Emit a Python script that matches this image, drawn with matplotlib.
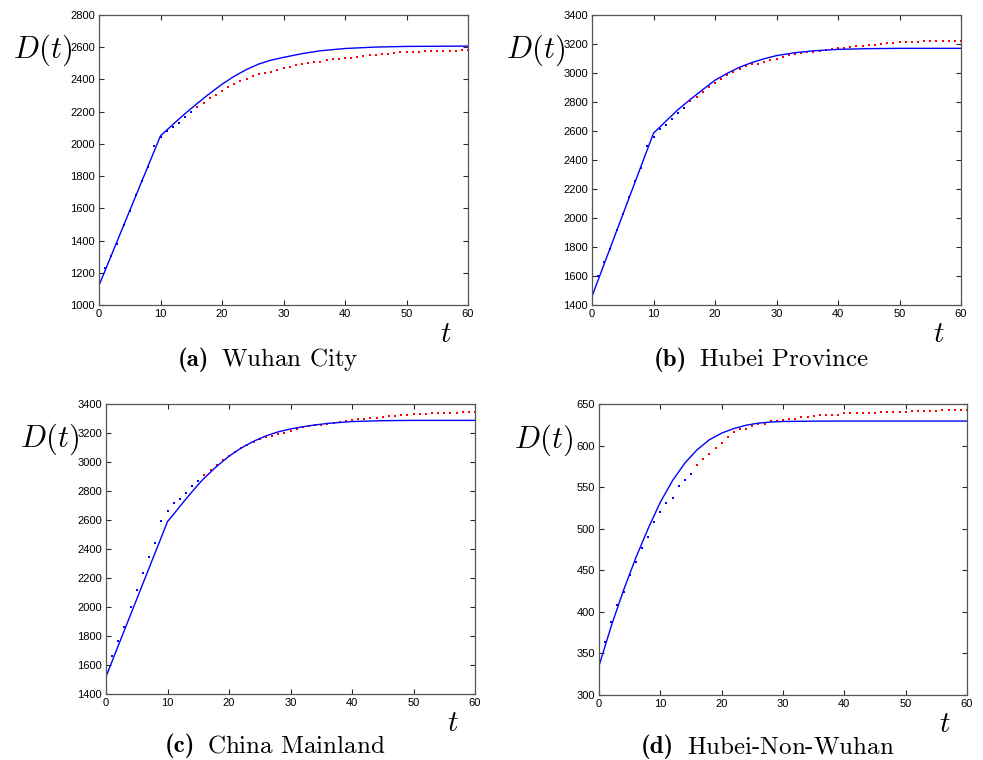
import numpy as np
import matplotlib
matplotlib.use("Agg")
import matplotlib.pyplot as plt
from matplotlib.offsetbox import TextArea, HPacker, AnchoredOffsetbox

plt.rcParams["mathtext.fontset"] = "cm"
plt.rcParams["font.family"] = ["Liberation Sans", "DejaVu Sans"]

# ── observed data (dots), one per day t = 0..60 ──────────────────────────────
t_obs = np.arange(0, 61)
n_fit = 16  # first 16 days drawn blue, rest red

wuhan_obs = [1122, 1232, 1306, 1381, 1494, 1583, 1685, 1772, 1857, 1987,
             2045, 2082, 2105, 2132, 2169, 2196, 2227, 2252, 2283, 2306,
             2330, 2351, 2370, 2390, 2405, 2423, 2434, 2438, 2448, 2459,
             2469, 2479, 2490, 2496, 2502, 2506, 2510, 2521, 2525, 2527,
             2531, 2535, 2539, 2546, 2550, 2552, 2556, 2560, 2564, 2568,
             2570, 2572, 2572, 2575, 2575, 2577, 2577, 2579, 2579, 2581, 2583]
hubei_obs = [1460, 1597, 1694, 1788, 1919, 2029, 2142, 2254, 2346, 2495,
             2562, 2617, 2640, 2683, 2727, 2762, 2805, 2835, 2872, 2904,
             2934, 2961, 2989, 3010, 3026, 3046, 3060, 3065, 3078, 3088,
             3099, 3110, 3124, 3131, 3136, 3143, 3147, 3154, 3161, 3166,
             3170, 3173, 3179, 3184, 3189, 3191, 3195, 3200, 3205, 3209,
             3212, 3214, 3216, 3216, 3218, 3218, 3221, 3223, 3223, 3223, 3223]
china_obs = [1520, 1660, 1766, 1864, 2002, 2115, 2235, 2343, 2441, 2591,
             2662, 2715, 2743, 2789, 2837, 2869, 2910, 2943, 2979, 3012,
             3041, 3069, 3097, 3120, 3140, 3159, 3170, 3179, 3191, 3201,
             3216, 3228, 3239, 3246, 3253, 3258, 3265, 3271, 3278, 3283,
             3290, 3294, 3299, 3301, 3306, 3308, 3315, 3320, 3324, 3327,
             3329, 3331, 3333, 3336, 3336, 3338, 3340, 3340, 3343, 3343, 3345]
nonwuhan_obs = [334.9, 363.4, 387.4, 408.3, 424.3, 444.4, 460.4, 476.4, 490.5, 508.5,
                520.6, 530.6, 537.4, 551.4, 558.2, 566.3, 576.3, 583.5, 589.5, 597.5,
                603.6, 610.4, 616.4, 619.6, 620.4, 623.2, 626.0, 626.4, 629.6, 629.6,
                630.8, 631.6, 632.4, 634.4, 634.4, 635.6, 636.4, 636.4, 636.4, 637.2,
                639.2, 639.2, 639.2, 639.2, 639.2, 639.2, 640.4, 640.4, 640.4, 640.4,
                640.4, 641.6, 641.6, 641.6, 641.6, 641.6, 642.4, 642.4, 642.4, 643.2, 643.2]

# ── model curves ─────────────────────────────────────────────────────────────
wuhan_t   = [0, 10, 12, 14, 16, 18, 20, 22, 24, 26, 28, 30, 33, 36, 40, 45, 50, 55, 60]
wuhan_fit = [1122, 2050, 2120, 2188, 2252, 2313, 2370, 2420, 2462, 2496, 2520, 2537,
             2560, 2578, 2592, 2601, 2605, 2606, 2607]

hubei_t   = [0, 10, 12, 14, 16, 18, 20, 22, 24, 26, 28, 30, 33, 36, 40, 45, 50, 60]
hubei_fit = [1460, 2585, 2667, 2748, 2818, 2885, 2950, 2998, 3040, 3072, 3098, 3120,
             3140, 3153, 3163, 3168, 3170, 3170]

china_t   = [0, 10, 11, 12, 13, 14, 15, 16, 18, 20, 22, 24, 26, 28, 30, 33, 36, 40, 45, 50, 60]
china_fit = [1520, 2589, 2640, 2693, 2745, 2795, 2845, 2890, 2970, 3040, 3097, 3143,
             3180, 3208, 3228, 3250, 3266, 3279, 3285, 3287, 3287]

nonwuhan_t   = [0, 2, 4, 6, 8, 10, 12, 14, 16, 18, 20, 22, 24, 26, 28, 30, 35, 40, 60]
nonwuhan_fit = [335, 383, 426, 465, 500, 532, 558, 579, 595, 607, 615, 620.5, 624.5,
                627, 628.3, 629, 629.4, 629.5, 629.5]

panels = [
    ("(a)", "Wuhan City", wuhan_obs, wuhan_t, wuhan_fit, (1000, 2800, 200)),
    ("(b)", "Hubei Province", hubei_obs, hubei_t, hubei_fit, (1400, 3400, 200)),
    ("(c)", "China Mainland", china_obs, china_t, china_fit, (1400, 3400, 200)),
    ("(d)", "Hubei-Non-Wuhan", nonwuhan_obs, nonwuhan_t, nonwuhan_fit, (300, 650, 50)),
]

W, H = 983, 760
# axes boxes in pixels: left, top, right, bottom
boxes = [(99, 15, 468, 305), (592, 15, 961, 305),
         (106, 404, 475, 694), (599, 404, 967, 695)]
cap_y = [-0.188, -0.188, -0.178, -0.178]

fig = plt.figure(figsize=(W / 100, H / 100), dpi=100)

for (tag, name, obs, ft, fv, (y0, y1, dy)), (l, t, r, b), cy in zip(panels, boxes, cap_y):
    ax = fig.add_axes([l / W, 1 - b / H, (r - l) / W, (b - t) / H])
    obs = np.asarray(obs)
    ax.plot(t_obs[:n_fit], obs[:n_fit], "s", color="blue", ms=1.9, mew=0)
    ax.plot(t_obs[n_fit:], obs[n_fit:], "s", color="red", ms=1.9, mew=0)
    ax.plot(ft, fv, "-", color="blue", lw=1.0)

    ax.set_xlim(0, 60)
    ax.set_ylim(y0, y1)
    ax.set_xticks(np.arange(0, 61, 10))
    ax.set_yticks(np.arange(y0, y1 + 1, dy))
    ax.tick_params(direction="in", top=True, right=True, length=3.5, width=0.8,
                   labelsize=8, pad=3, colors="#262626", labelcolor="black")
    for s in ax.spines.values():
        s.set_color("#555555")
        s.set_linewidth(0.9)

    ax.text(-0.152, 0.877, "$D(t)$", transform=ax.transAxes, fontsize=22,
            ha="center", va="center")
    ax.text(0.94, -0.10, "$t$", transform=ax.transAxes, fontsize=21,
            ha="center", va="center")

    # caption: bold tag + roman name
    cap = HPacker(children=[TextArea(tag, textprops=dict(family="cmb10", size=18)),
                            TextArea(r"$\text{" + name + "}$", textprops=dict(size=18))],
                  align="baseline", pad=0, sep=9)
    box = AnchoredOffsetbox(loc="center", child=cap, pad=0, frameon=False,
                            bbox_to_anchor=(0.458, cy),
                            bbox_transform=ax.transAxes, borderpad=0)
    ax.add_artist(box)

fig.savefig("out.png", dpi=100)
